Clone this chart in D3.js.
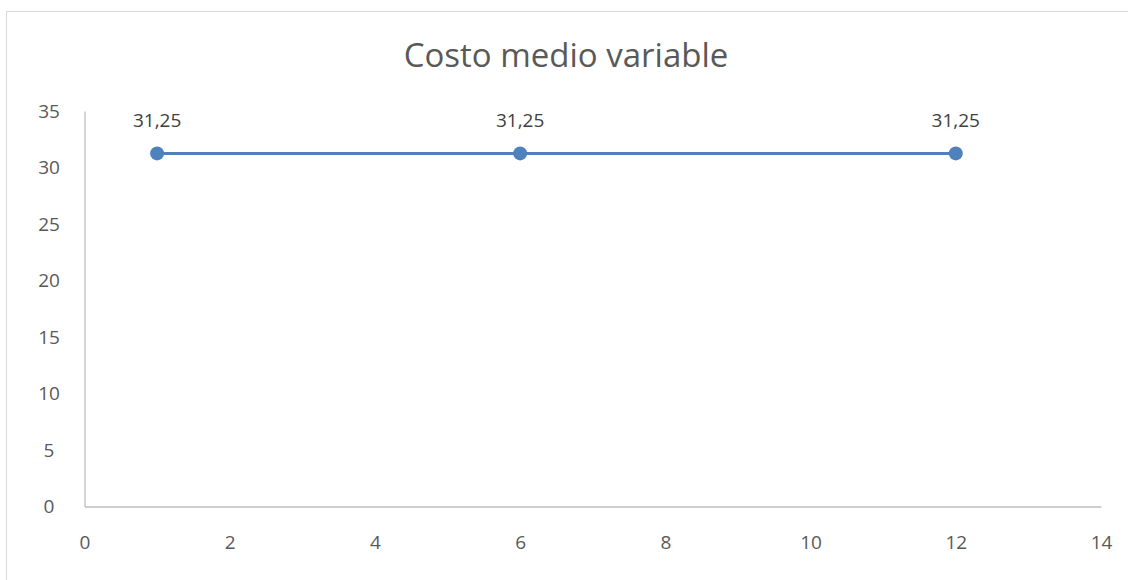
<!DOCTYPE html>
<html>
<head>
<meta charset="utf-8">
<script src="https://cdn.jsdelivr.net/npm/d3@7.9.0/dist/d3.min.js"></script>
<style>
  body { margin: 0; background: #fff; }
  svg { font-family: "Open Sans", "Noto Sans", sans-serif; }
</style>
</head>
<body>
<svg width="1128" height="580"></svg>
<script>
const title = 'Costo medio variable';
const xValues = [1, 6, 12];
const yValues = [31.25, 31.25, 31.25];
const xTicks = [0, 2, 4, 6, 8, 10, 12, 14];
const yTicks = [0, 5, 10, 15, 20, 25, 30, 35];

const svg = d3.select('svg');

// outer chart border (runs off right and bottom edges)
svg.append('rect')
  .attr('x', 6.5).attr('y', 11.5)
  .attr('width', 1130).attr('height', 580)
  .attr('fill', 'none').attr('stroke', '#d9d9d9');

const x = d3.scaleLinear().domain([0, 14]).range([84.5, 1101]);
const y = d3.scaleLinear().domain([0, 35]).range([506.5, 111]);

svg.append('text')
  .attr('x', 566).attr('y', 67)
  .attr('text-anchor', 'middle')
  .attr('font-size', 33)
  .attr('fill', '#595959')
  .text(title);

// axes, no tick marks
let xAxis = svg.append('g')
  .attr('transform', `translate(0,${y(0)})`)
  .call(d3.axisBottom(x).tickValues(xTicks).tickSize(0).tickPadding(29));
let yAxis = svg.append('g')
  .attr('transform', `translate(${x(0)},0)`)
  .call(d3.axisLeft(y).tickValues(yTicks).tickSize(0).tickPadding(26));

[xAxis, yAxis].forEach(ax => {
  ax.attr('font-size', 19).attr('font-family', null);
  ax.select('.domain').attr('stroke', '#bfbfbf').attr('stroke-width', 1.3);
  ax.selectAll('text').attr('fill', '#595959');
});
yAxis.selectAll('text').attr('text-anchor', 'middle').attr('dx', '-0.5em');

const data = xValues.map((d, i) => ({ x: d, y: yValues[i] }));

svg.append('path')
  .datum(data)
  .attr('fill', 'none')
  .attr('stroke', '#4f81bd')
  .attr('stroke-width', 3)
  .attr('d', d3.line().x(d => x(d.x)).y(d => y(d.y)));

svg.selectAll('circle')
  .data(data)
  .enter()
  .append('circle')
  .attr('cx', d => x(d.x))
  .attr('cy', d => y(d.y))
  .attr('r', 7)
  .attr('fill', '#4f81bd');

svg.selectAll('.lbl')
  .data(data)
  .enter()
  .append('text')
  .attr('class', 'lbl')
  .attr('x', d => x(d.x))
  .attr('y', d => y(d.y) - 26)
  .attr('text-anchor', 'middle')
  .attr('font-size', 19)
  .attr('fill', '#404040')
  .text(d => d3.format('.2f')(d.y).replace('.', ','));
</script>
</body>
</html>
